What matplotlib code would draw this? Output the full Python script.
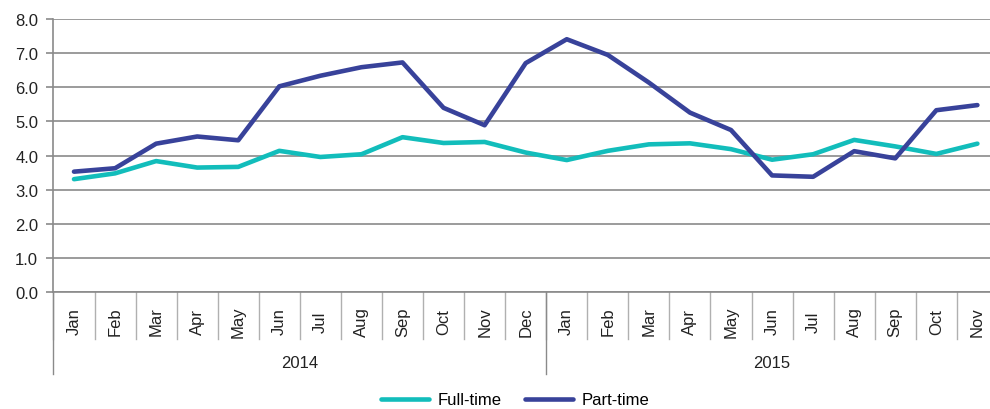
import matplotlib.pyplot as plt
import matplotlib.transforms as mtransforms
import numpy as np

plt.rcParams['font.family'] = ['Liberation Sans', 'DejaVu Sans']

# data
months = ['Jan', 'Feb', 'Mar', 'Apr', 'May', 'Jun', 'Jul', 'Aug', 'Sep', 'Oct', 'Nov', 'Dec',
          'Jan', 'Feb', 'Mar', 'Apr', 'May', 'Jun', 'Jul', 'Aug', 'Sep', 'Oct', 'Nov']
years = ['2014', '2015']
year_counts = [12, 11]
full_time = [3.31, 3.48, 3.84, 3.65, 3.67, 4.14, 3.96, 4.04, 4.54, 4.37, 4.40, 4.09,
             3.87, 4.14, 4.33, 4.36, 4.19, 3.88, 4.04, 4.46, 4.27, 4.05, 4.35]
part_time = [3.53, 3.63, 4.35, 4.56, 4.45, 6.03, 6.34, 6.59, 6.73, 5.40, 4.89, 6.71,
             7.41, 6.95, 6.14, 5.26, 4.75, 3.42, 3.38, 4.13, 3.92, 5.33, 5.48]

CYAN = '#12BDBB'
NAVY = '#38429A'
GRID = '#8a8a8a'

fig = plt.figure(figsize=(9.9, 4.1), dpi=100)
ax = fig.add_axes([0.054, 0.285, 0.954, 0.666])

x = np.arange(len(months))
ax.plot(x, full_time, color=CYAN, lw=3.3, label='Full-time', solid_capstyle='round', zorder=3)
ax.plot(x, part_time, color=NAVY, lw=3.3, label='Part-time', solid_capstyle='round', zorder=3)

ax.set_xlim(-0.5, len(months) - 0.5)
ax.set_ylim(0, 8)
ax.set_yticks(np.arange(0, 8.1, 1))
ax.set_yticklabels([f'{v:.1f}' for v in np.arange(0, 8.1, 1)], fontsize=12, color='#222222')
ax.yaxis.grid(True, color=GRID, lw=1.2)
ax.set_axisbelow(True)
ax.tick_params(axis='y', length=5, color=GRID, width=1.2, pad=6)
ax.set_xticks([])
for s in ['top', 'right']:
    ax.spines[s].set_visible(False)
for s in ['left', 'bottom']:
    ax.spines[s].set_color(GRID)
    ax.spines[s].set_linewidth(1.2)

# category axis: month cells and year groups below the plot
trans = mtransforms.blended_transform_factory(ax.transData, ax.transAxes)
for i in range(len(months) + 1):
    ax.plot([i - 0.5, i - 0.5], [0, -0.172], transform=trans, color='#b0b0b0', lw=1, clip_on=False)
for i, m in enumerate(months):
    ax.text(i, -0.105, m, transform=trans, rotation=90, ha='center', va='center',
            fontsize=12, color='#222222')

start = 0
for yr, n in zip(years, year_counts):
    ax.plot([start - 0.5, start - 0.5], [0, -0.30], transform=trans, color=GRID, lw=1, clip_on=False)
    ax.text(start + (n - 1) / 2, -0.257, yr, transform=trans, ha='center', va='center',
            fontsize=12, color='#222222')
    start += n

fig.legend(loc='lower center', bbox_to_anchor=(0.52, 0.0), ncol=2, frameon=False,
           fontsize=12, handlelength=2.9, columnspacing=1.4, handletextpad=0.5,
           borderaxespad=0, borderpad=0.1)

fig.savefig('out.png', dpi=100)
